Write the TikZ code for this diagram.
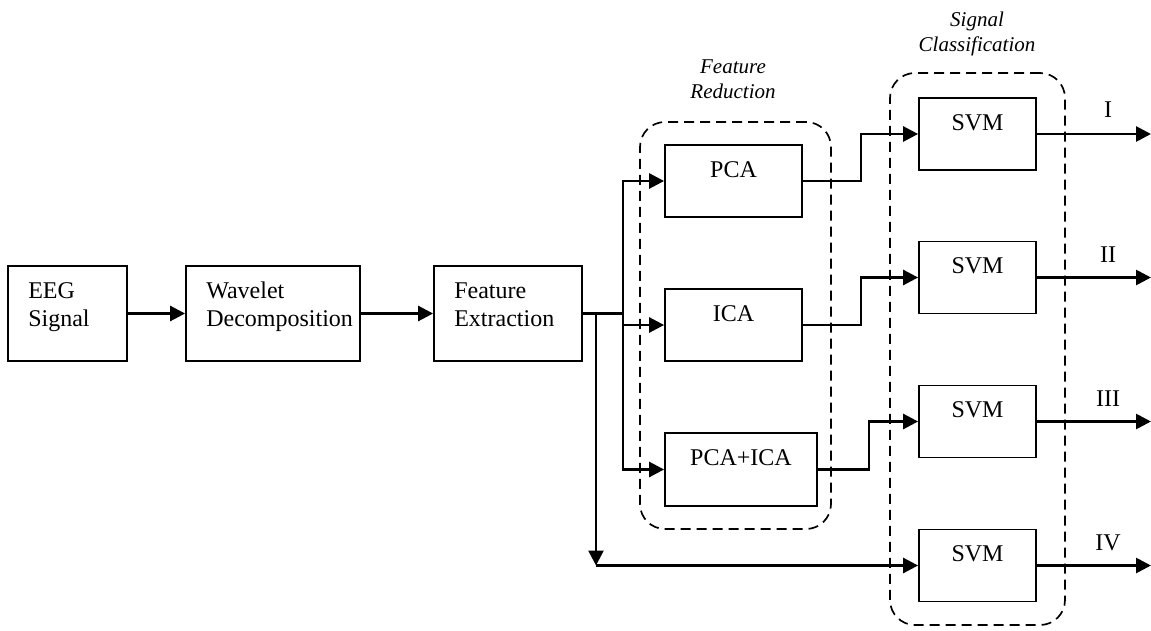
\documentclass[tikz,border=0pt]{standalone}
\usepackage{fontspec}
\setmainfont{Liberation Serif}
\usetikzlibrary{arrows.meta,positioning,calc}
\tikzset{
  box/.style={draw, line width=1.8pt, inner sep=0pt},
  boxtxt/.style={inner sep=0pt, align=left, font=\fontsize{24}{28}\selectfont},
  grp/.style={draw, dashed, dash pattern=on 10pt off 6pt, line width=1.7pt, rounded corners=25pt, inner sep=0pt},
  grplbl/.style={inner sep=0pt, align=center, font=\fontsize{21}{25}\selectfont\itshape},
  outlbl/.style={inner sep=0pt, font=\fontsize{24}{28}\selectfont},
  wire/.style={line width=2.7pt},
  arr/.style={wire, -{Triangle[length=15pt,width=15pt]}},
}
\begin{document}
\begin{tikzpicture}[x=1pt,y=-1pt]
\useasboundingbox (0,0) rectangle (1151,631);
% group frames
\node[grp, minimum width=191pt, minimum height=407pt] (fr) at (735.5,325.5) {};
\node[grp, minimum width=175pt, minimum height=552pt] (sc) at (977.5,349) {};
\node[grplbl, anchor=north] (frl) at (733,60) {Feature\\Reduction};
\node[grplbl, anchor=north] (scl) at (977,12) {Signal\\Classification};
% main chain
\node[box, minimum width=119pt, minimum height=95pt] (eeg) at (67.5,313.5) {};
\node[box, minimum width=174pt, minimum height=95pt] (wav) at (273,313.5) {};
\node[box, minimum width=148pt, minimum height=95pt] (fe) at (508,313.5) {};
\node[boxtxt, anchor=north west] (eegt) at ([xshift=21pt,yshift=-17pt]eeg.north west) {EEG\\Signal};
\node[boxtxt, anchor=north west] (wavt) at ([xshift=21pt,yshift=-17pt]wav.north west) {Wavelet\\Decomposition};
\node[boxtxt, anchor=north west] (fet) at ([xshift=21pt,yshift=-17pt]fe.north west) {Feature\\Extraction};
% reduction
\node[box, minimum width=137pt, minimum height=72pt] (pca) at (733.5,181) {};
\node[box, minimum width=137pt, minimum height=72pt] (ica) at (733.5,325) {};
\node[box, minimum width=152pt, minimum height=73pt] (pcaica) at (741,469.5) {};
\node[boxtxt, anchor=north] (pcat) at ([yshift=-17pt]pca.north) {PCA};
\node[boxtxt, anchor=north] (icat) at ([yshift=-17pt]ica.north) {ICA};
\node[boxtxt, anchor=north] (pcaicat) at ([yshift=-17pt]pcaica.north) {PCA+ICA};
% classifiers
\foreach \n/\y in {1/134,2/277.5,3/421.5,4/565.5}{
  \node[box, minimum width=117pt, minimum height=72pt] (svm\n) at (977.5,\y) {};
  \node[boxtxt, anchor=north] (svm\n t) at ([yshift=-17pt]svm\n.north) {SVM};
  \coordinate (out\n) at (1151,\y);
}
\node[outlbl, anchor=base] (l1) at (1108,118) {I};
\node[outlbl, anchor=base] (l2) at (1108,262) {II};
\node[outlbl, anchor=base] (l3) at (1108,406) {III};
\node[outlbl, anchor=base] (l4) at (1108,550) {IV};
% connectors
\coordinate (j1) at (623,313.5);
\coordinate (j0) at (596,313.5);
\coordinate (j4) at (596,565.5);
\draw[arr] (eeg) -- (wav);
\draw[arr] (wav) -- (fe);
\draw[wire] (fe.east) -- (j1);
\draw[arr] (j1) |- (pca.west);
\draw[arr] (j1) |- (ica.west);
\draw[arr] (j1) |- (pcaica.west);
\draw[arr] (j0) -- (j4);
\draw[arr] (j4) -- (svm4.west);
\draw[arr] (pca.east) -- ++(58,0) |- (svm1.west);
\draw[arr] (ica.east) -- ++(58,0) |- (svm2.west);
\draw[arr] (pcaica.east) -- ++(51,0) |- (svm3.west);
\foreach \n in {1,2,3,4}{ \draw[arr] (svm\n.east) -- (out\n); }
\end{tikzpicture}
\end{document}
